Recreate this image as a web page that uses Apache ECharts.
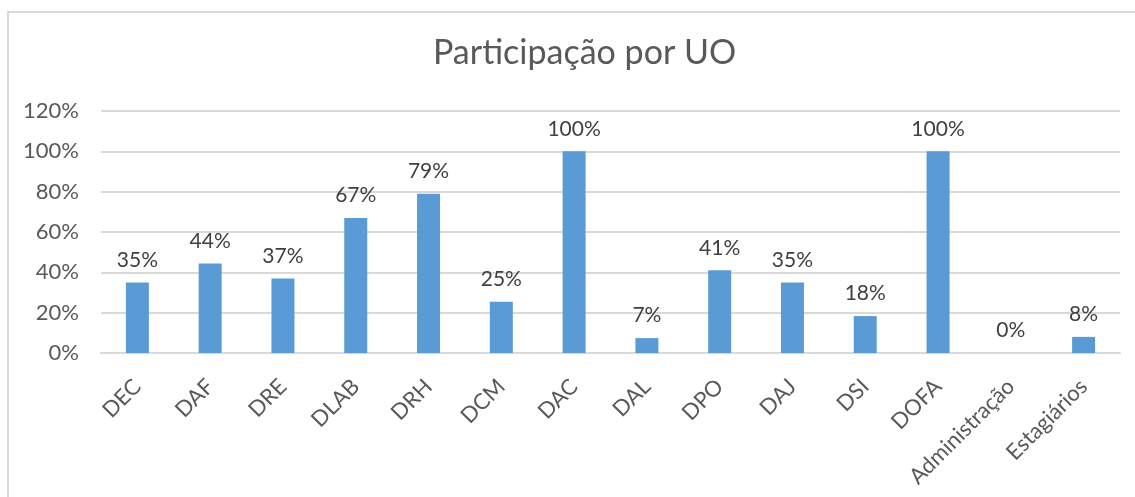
<!DOCTYPE html>
<html>
<head>
<meta charset="utf-8">
<script src="https://cdn.jsdelivr.net/npm/echarts@6/dist/echarts.min.js"></script>
<style>
  html, body { margin: 0; padding: 0; background: #fff; }
  #frame {
    position: absolute; left: 7px; top: 11px; width: 1200px; height: 600px;
    border-left: 2px solid #d9d9d9; border-top: 2px solid #d9d9d9;
  }
  #chart { position: absolute; left: 0; top: 0; width: 1135px; height: 497px; }
</style>
</head>
<body>
<div id="frame"></div>
<div id="chart"></div>
<script>
// categorias e valores (%)
const categories = ['DEC', 'DAF', 'DRE', 'DLAB', 'DRH', 'DCM', 'DAC', 'DAL', 'DPO', 'DAJ', 'DSI', 'DOFA', 'Administração', 'Estagiários']
const participacao = [35, 44.4, 37, 67, 79, 25.4, 100, 7.4, 41, 35, 18.3, 100, 0, 8]
const yTicks = [0, 20, 40, 60, 80, 100, 120]

const textColor = '#595959'
const fontFamily = 'Lato, "Open Sans", sans-serif'

const chart = echarts.init(document.getElementById('chart'))

const option = {
  animation: false,
  textStyle: { fontFamily: fontFamily },
  title: {
    text: 'Participação por UO',
    left: 428,
    top: 31,
    textStyle: { fontSize: 34, fontWeight: 'normal', color: textColor, fontFamily: fontFamily }
  },
  grid: { left: 101, right: 15, top: 111, bottom: 144 },
  xAxis: {
    type: 'category',
    data: categories,
    axisLine: { lineStyle: { color: '#d9d9d9', width: 2 } },
    axisTick: { show: false },
    axisLabel: { rotate: 45, margin: 30, fontSize: 22, color: textColor, interval: 0 }
  },
  yAxis: {
    type: 'value',
    min: yTicks[0],
    max: yTicks[yTicks.length - 1],
    interval: 20,
    axisLine: { show: false },
    axisTick: { show: false },
    splitLine: { lineStyle: { color: '#d9d9d9', width: 2 } },
    axisLabel: { fontSize: 22, color: textColor, margin: 22, formatter: v => v + '%' }
  },
  series: [{
    type: 'bar',
    data: participacao,
    barWidth: 23,
    itemStyle: { color: '#5b9bd5' },
    label: {
      show: true,
      position: 'top',
      distance: 12,
      fontSize: 21,
      color: '#404040',
      formatter: p => Math.round(p.value) + '%'
    }
  }]
}

chart.setOption(option)
</script>
</body>
</html>
